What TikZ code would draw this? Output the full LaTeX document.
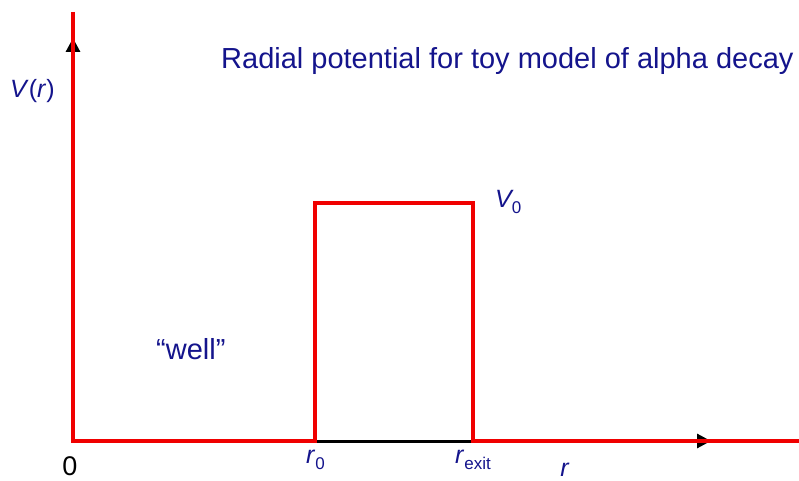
\documentclass[tikz,border=0pt]{standalone}
\usepackage{fontspec}
\setmainfont{Liberation Sans}
\usetikzlibrary{arrows.meta}
\definecolor{lblue}{RGB}{20,20,140}
\definecolor{pred}{RGB}{240,0,0}
\newcommand{\mysub}[1]{\raisebox{-6pt}{\fontsize{17}{17}\selectfont #1}}
\begin{document}
\begin{tikzpicture}[x=1pt,y=-1pt,
  axis/.style={black,line width=3pt},
  tipstyle/.style={-{Triangle[length=14pt,width=14pt]}},
  pot/.style={pred,line width=3.5pt,line join=miter},
  lbl/.style={text=lblue,font=\fontsize{25}{28}\selectfont,inner sep=0pt},
  big/.style={text=lblue,font=\fontsize{29}{32}\selectfont,inner sep=0pt},
  zero/.style={text=black,font=\fontsize{27}{30}\selectfont,inner sep=0pt}]
\useasboundingbox (0,0) rectangle (799,481);
% coordinates
\coordinate (O) at (73,441);
\coordinate (ytop) at (73,12);
\coordinate (ytip) at (73,38);
\coordinate (xtip) at (711,441);
\coordinate (xend) at (799,441);
\coordinate (a) at (315,441);
\coordinate (b) at (315,203);
\coordinate (c) at (473,203);
\coordinate (d) at (473,441);
% axes
\draw[axis,tipstyle] (O) -- (ytip);
\draw[axis,tipstyle] (O) -- (xtip);
% potential
\draw[pot] (ytop) -- (O) -- (a) -- (b) -- (c) -- (d) -- (xend);
% labels
\node[big,anchor=base west] (title) at (221,69) {Radial potential for toy model of alpha decay};
\node[lbl,anchor=base west] (Vr) at (10,98) {\textit{V}(\textit{r})};
\node[lbl,anchor=base west] (V0) at (495,207) {\textit{V}\kern-2pt\mysub{0}};
\node[big,anchor=base west] (well) at (156,359) {“well”};
\node[zero,anchor=base] (zero) at (70,475) {0};
\node[lbl,anchor=base west] (r0) at (306,463) {\textit{r}\mysub{0}};
\node[lbl,anchor=base west] (rexit) at (455,463) {\textit{r}\mysub{exit}};
\node[lbl,anchor=base] (r) at (565,476) {\textit{r}};
\end{tikzpicture}
\end{document}
